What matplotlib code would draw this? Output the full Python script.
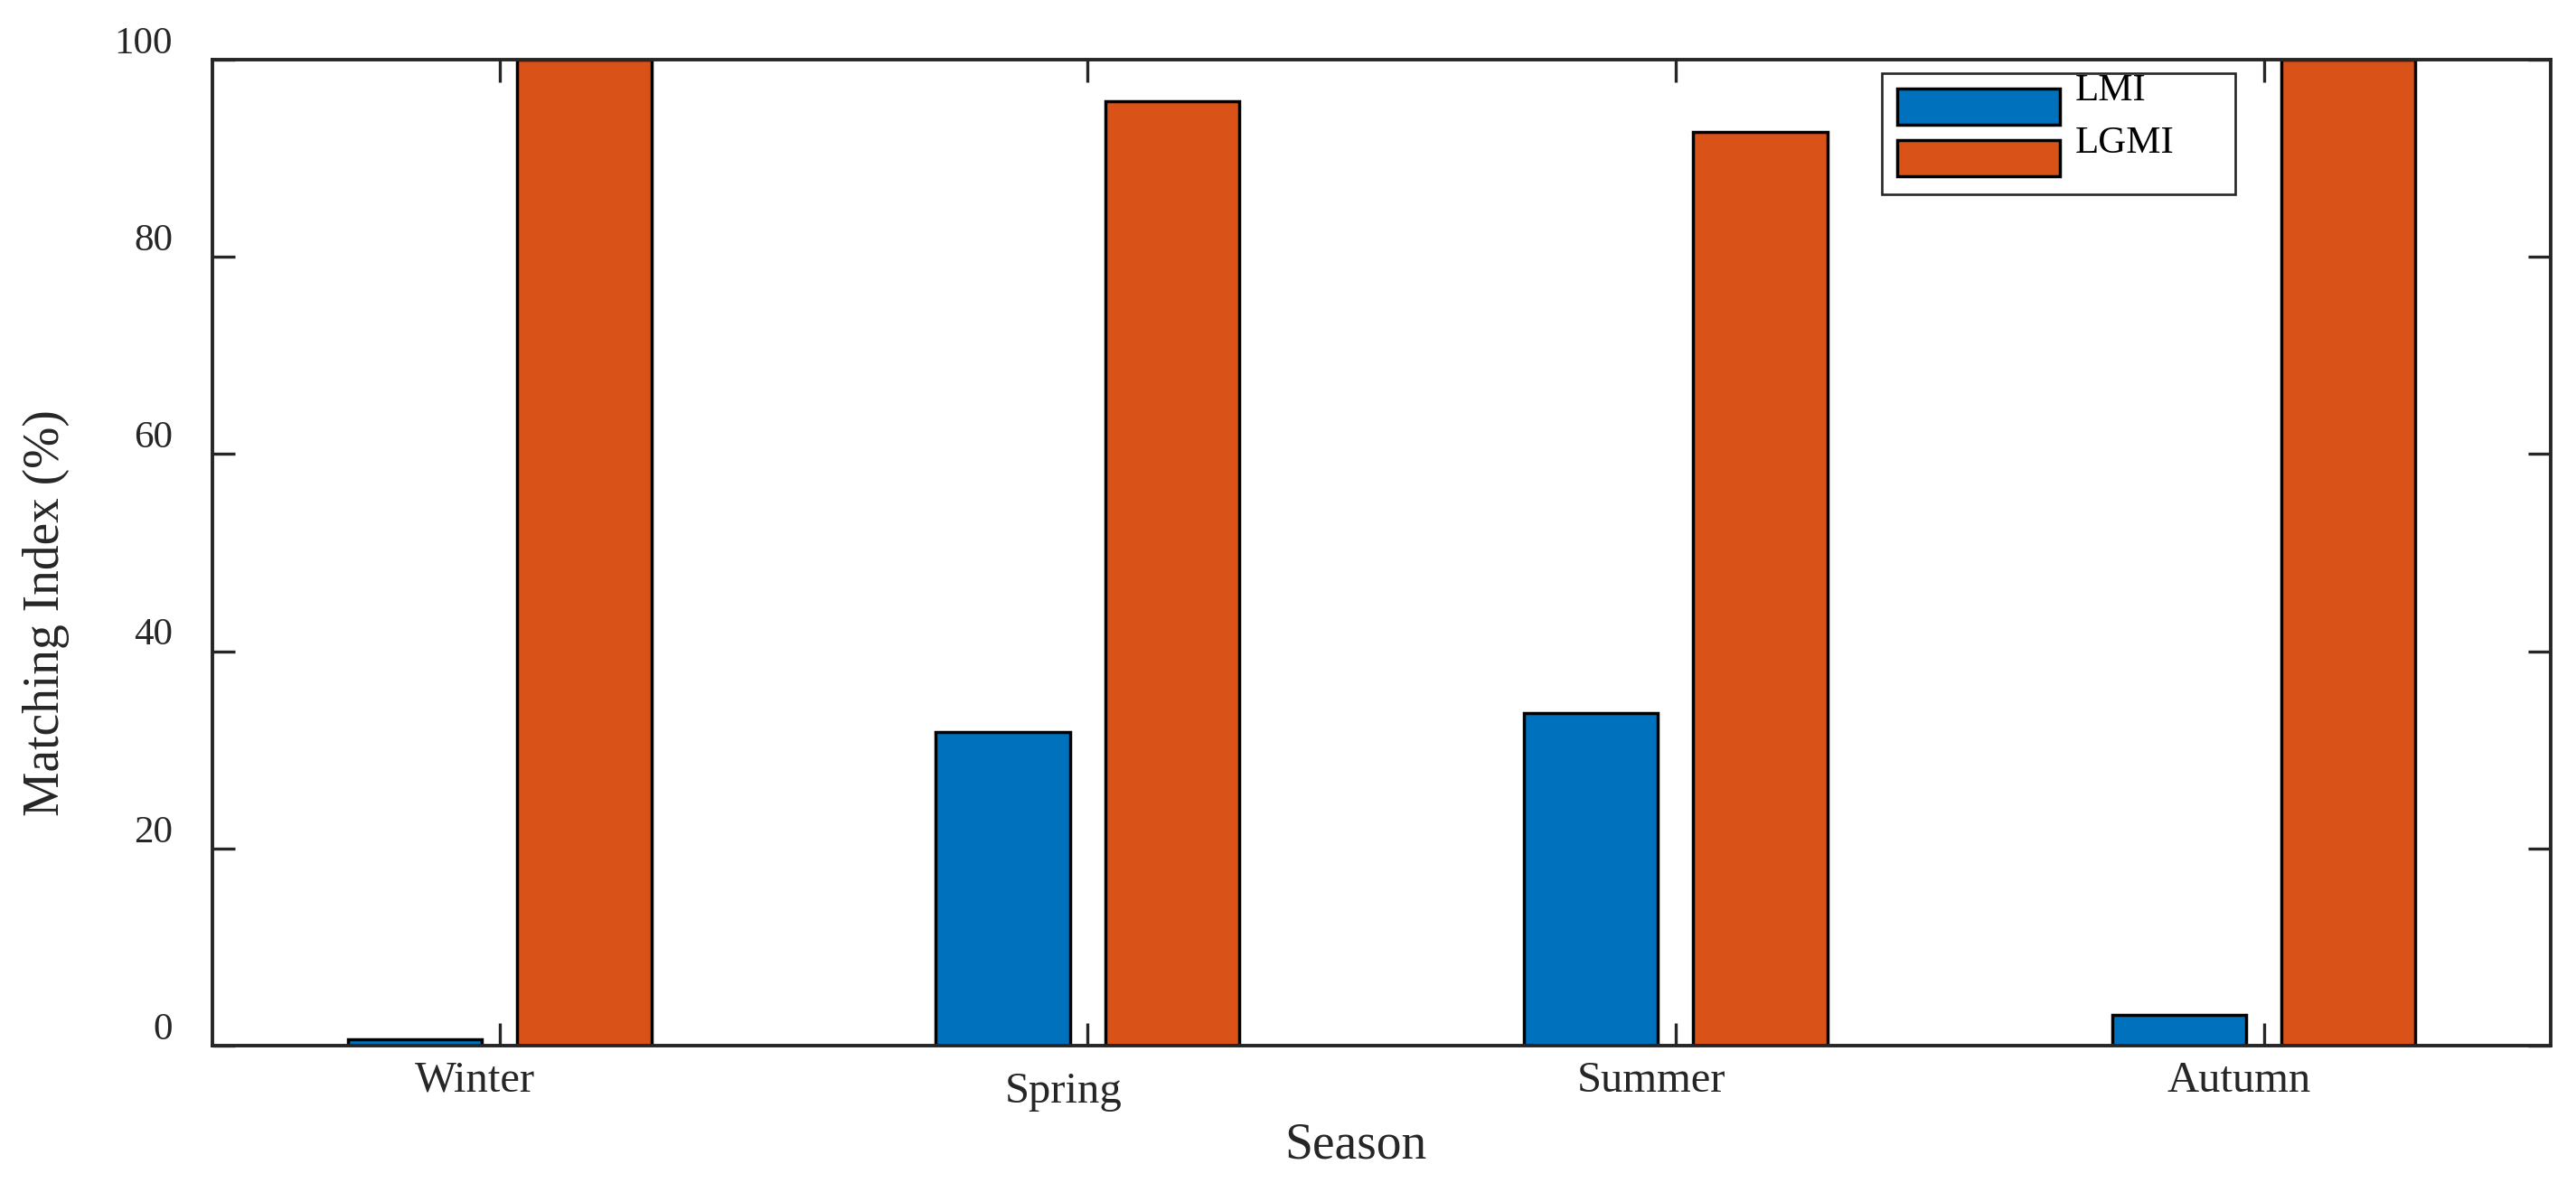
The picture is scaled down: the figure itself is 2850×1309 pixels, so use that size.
import numpy as np
import matplotlib
matplotlib.use('Agg')
import matplotlib.pyplot as plt
from matplotlib.transforms import ScaledTranslation

# Data.
seasons = ['Winter', 'Spring', 'Summer', 'Autumn']
lmi = [0.6, 31.8, 33.7, 3.1]
lgmi = [100, 95.8, 92.7, 100]

plt.rcParams['font.family'] = ['Liberation Serif', 'DejaVu Serif']

dark = '#262626'
blue = '#0072BD'
orange = '#D95319'

fig = plt.figure(figsize=(28.5, 13.09), dpi=100)
ax = fig.add_axes([0.0825, 0.1161, 0.9077, 0.8335])

x = np.arange(1, len(seasons) + 1)
w = 0.228
off = 0.144
ax.bar(x - off, lmi, w, color=blue, edgecolor='k', linewidth=2.5, label='LMI')
ax.bar(x + off, lgmi, w, color=orange, edgecolor='k', linewidth=2.5, label='LGMI')

ax.set_xlim(0.512, 4.488)
ax.set_ylim(0, 100)
ax.set_xticks(x)
ax.set_xticklabels(seasons)
ax.set_yticks(np.arange(0, 101, 20))

for s in ax.spines.values():
    s.set_linewidth(2.8)
    s.set_color(dark)

ax.tick_params(axis='both', direction='in', top=True, right=True,
               length=18, width=2.4, color=dark, labelcolor=dark)
ax.tick_params(axis='x', labelsize=35, pad=12)
ax.tick_params(axis='y', labelsize=31, pad=31.7)

# The text layer in the original sits a little off the ticks.
for lab in ax.get_xticklabels():
    dy = -0.12 if lab.get_text() == 'Spring' else 0
    lab.set_transform(lab.get_transform() + ScaledTranslation(-0.27, dy, fig.dpi_scale_trans))
for lab in ax.get_yticklabels():
    lab.set_transform(lab.get_transform() + ScaledTranslation(0, 0.22, fig.dpi_scale_trans))

ax.set_xlabel('Season', fontsize=40, color=dark)
ax.set_ylabel('Matching Index (%)', fontsize=40, color=dark)
ax.xaxis.set_label_coords(0.489, -0.077)
ax.yaxis.set_label_coords(-0.0611, 0.439)

leg = ax.legend(loc='upper left', bbox_to_anchor=(0.714, 0.862, 0.151, 0.124),
                mode='expand', borderaxespad=0, fontsize=31,
                handlelength=4.19, handleheight=1.05, handletextpad=0.4,
                labelspacing=0.33, borderpad=0.38, fancybox=False,
                framealpha=1, edgecolor=dark)
leg.get_frame().set_linewidth(1.9)
for t in leg.get_texts():
    t.set_transform(t.get_transform() + ScaledTranslation(0, 0.21, fig.dpi_scale_trans))

fig.savefig('out.png', dpi=100)
